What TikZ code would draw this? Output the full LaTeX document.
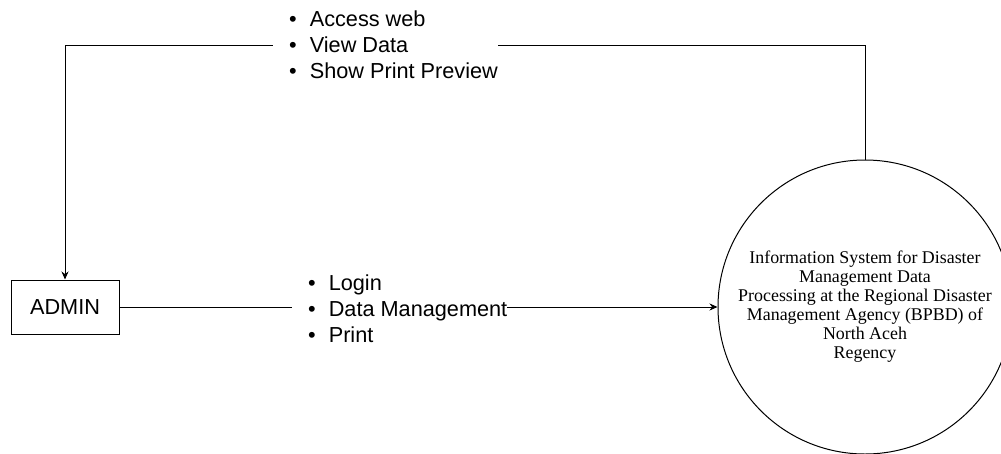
\documentclass[tikz,border=0pt]{standalone}
\usepackage{fontspec}
\setmainfont{Liberation Serif}
\newfontfamily\arialfont{Liberation Sans}
\usetikzlibrary{arrows.meta}

% one bullet line of a flow label
\newcommand\lstbul{\hspace*{16pt}\makebox[7.6pt]{\textbullet}\hspace{13pt}}

\begin{document}
\begin{tikzpicture}[x=1pt,y=-1pt,
  flow/.style={draw=black, line width=1pt, -{Stealth[length=8pt,width=7pt]}},
  entity/.style={draw=black, line width=1pt, rectangle, minimum width=108pt,
    minimum height=54pt, inner sep=0pt,
    font=\arialfont\fontsize{21.7}{26}\selectfont},
  process/.style={draw=black, circle, line width=1pt, minimum size=294pt,
    inner sep=0pt, align=center, font=\fontsize{17.9}{19}\selectfont},
  flowlabel/.style={fill=white, inner sep=0pt, align=left, anchor=west,
    font=\arialfont\fontsize{21.7}{26}\selectfont}]
\useasboundingbox (0,0) rectangle (1001,453);

% external entity and the system process
\node[entity] (admin) at (65,307) {ADMIN};
\node[process] (proc) at (865,307) {Information System for Disaster\\
  Management Data\\
  Processing at the Regional Disaster\\
  Management Agency (BPBD) of\\
  North Aceh\\
  Regency};

% data flows
\coordinate (bend) at (admin.north |- 0,45);
\draw[flow] (proc.north) |- (bend) -- (admin.north);
\draw[flow] (admin.east) -- (proc.west);

% flow labels, drawn over the lines
\node[flowlabel] (outlbl) at (273,45)
  {\lstbul Access web\\ \lstbul View Data\\ \lstbul Show Print Preview};
\node[flowlabel] (inlbl) at (292,309)
  {\lstbul Login\\ \lstbul Data Management\\ \lstbul Print};
\end{tikzpicture}
\end{document}
